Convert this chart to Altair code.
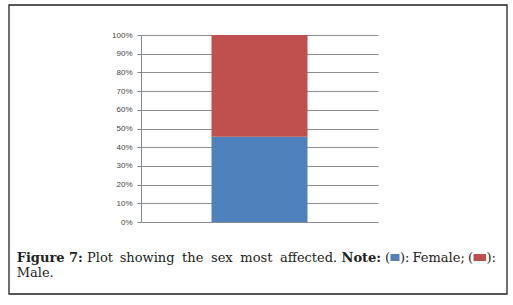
import altair as alt
import pandas as pd

# data
categories = ["Female", "Male"]
shares = [45.6, 54.4]
colors = ["#4F81BD", "#C0504D"]
tick_values = [0, 0.1, 0.2, 0.3, 0.4, 0.5, 0.6, 0.7, 0.8, 0.9, 1.0]

df = pd.DataFrame({"group": ["all"] * 2, "sex": categories, "share": shares,
                   "rank": [0, 1]})
one = pd.DataFrame({"k": [0]})

W, H = 237, 187
PL, PT = 141, 35

bars = alt.Chart(df).mark_bar(size=96).encode(
    x=alt.X("group:N", axis=None),
    y=alt.Y("share:Q", stack="normalize",
            scale=alt.Scale(domain=[0, 1], nice=False),
            axis=alt.Axis(values=tick_values, format="%", title=None,
                          labelFont="Liberation Sans", labelFontSize=8,
                          labelColor="#444444", labelPadding=5,
                          tickSize=4, tickColor="#868686",
                          domainColor="#868686", gridColor="#8c8c8c",
                          gridWidth=1)),
    color=alt.Color("sex:N", scale=alt.Scale(domain=categories, range=colors),
                    legend=None),
    order=alt.Order("rank:Q"),
)

def txt(s, x, y, bold=False):
    return alt.Chart(one).mark_text(
        text=s, align="left", baseline="alphabetic", font="DejaVu Serif",
        fontSize=13, fontWeight="bold" if bold else "normal", color="#222222"
    ).encode(x=alt.value(x - PL), y=alt.value(y - PT))

def box(x1, x2, y1, y2, fill):
    return alt.Chart(one).mark_rect(fill=fill).encode(
        x=alt.value(x1 - PL), x2=alt.value(x2 - PL),
        y=alt.value(y1 - PT), y2=alt.value(y2 - PT))

border = alt.Chart(one).mark_rect(fill=None, stroke="#222222", strokeWidth=1.3).encode(
    x=alt.value(9 - PL), x2=alt.value(507 - PL),
    y=alt.value(5 - PT), y2=alt.value(294 - PT))

b1 = 261.7
b2 = 277.3
layers = [
    border, bars,
    txt("Figure 7:", 16.7, b1, True),
    txt("Plot", 87, b1),
    txt("showing", 119.7, b1),
    txt("the", 182.1, b1),
    txt("sex", 211, b1),
    txt("most", 240.3, b1),
    txt("affected.", 279.9, b1),
    txt("Note:", 341.5, b1, True),
    txt("(", 385, b1),
    box(390.5, 399.5, 254, 261, colors[0]),
    txt("):", 400, b1),
    txt("Female;", 412.5, b1),
    txt("(", 468, b1),
    box(473.5, 486, 254, 261, colors[1]),
    txt("):", 486.5, b1),
    txt("Male.", 16.7, b2),
]

chart = alt.layer(*layers).properties(
    width=W, height=H,
    autosize=alt.AutoSizeParams(type="none"),
    padding={"left": PL, "top": PT, "right": 513 - PL - W, "bottom": 305 - PT - H},
    background="white",
).configure_view(stroke=None)

chart.save("out.html", embed_options={"renderer": "svg", "actions": False})
